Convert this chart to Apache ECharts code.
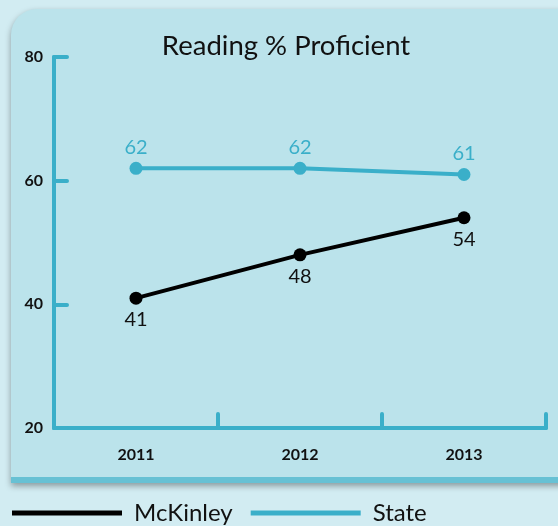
<!DOCTYPE html>
<html lang="en">
<head>
  <meta charset="UTF-8">
  <title>Reading % Proficient</title>
  <script src="https://cdn.jsdelivr.net/npm/echarts@6/dist/echarts.min.js"></script>
  <style>
    html, body { margin: 0; padding: 0; background: #d2ecf2; }
  </style>
</head>
<body>
  <div id="chart" style="width: 558px; height: 526px"></div>

  <script>
    const years = ['2011', '2012', '2013']
    const mckinley = [41, 48, 54]
    const state = [62, 62, 61]
    const yTicks = [20, 40, 60, 80]

    const teal = '#3aafc9'
    const font = 'Lato'

    const chart = echarts.init(document.getElementById('chart'))

    const option = {
      backgroundColor: '#d2ecf2',
      textStyle: { fontFamily: font },
      title: {
        text: 'Reading % Proficient',
        left: 286,
        textAlign: 'center',
        top: 32,
        padding: 0,
        textStyle: { fontSize: 27.5, fontWeight: 'normal', color: '#111', fontFamily: font }
      },
      graphic: [
        {
          type: 'rect',
          silent: true,
          z: -10,
          shape: { x: 11, y: 9, width: 600, height: 474, r: [26, 0, 0, 0] },
          style: { fill: '#bbe3eb', shadowBlur: 6, shadowOffsetY: 3, shadowColor: 'rgba(0,0,0,0.35)' }
        },
        {
          type: 'rect',
          silent: true,
          z: -9,
          shape: { x: 11, y: 477, width: 600, height: 6 },
          style: { fill: '#67c1d4' }
        }
      ],
      grid: {
        left: 54,
        right: 12,
        top: 57,
        bottom: 98,
        containLabel: false
      },
      legend: {
        left: 12,
        top: 501,
        padding: 0,
        icon: 'rect',
        itemWidth: 110,
        itemHeight: 5,
        itemGap: 18,
        textStyle: { fontSize: 24, color: '#111', fontFamily: font, padding: [0, 0, 0, 7] },
        data: ['McKinley', 'State']
      },
      xAxis: {
        type: 'category',
        data: years,
        boundaryGap: true,
        axisLine: { lineStyle: { color: teal, width: 4, cap: 'round' } },
        axisTick: { show: true, inside: true, length: 14, lineStyle: { color: teal, width: 4, cap: 'round' } },
        axisLabel: { fontSize: 16, fontWeight: 'bold', color: '#111', margin: 19, fontFamily: font },
        splitLine: { show: false }
      },
      yAxis: {
        type: 'value',
        min: yTicks[0],
        max: yTicks[yTicks.length - 1],
        interval: 20,
        axisLine: { show: true, lineStyle: { color: teal, width: 4, cap: 'round' } },
        axisTick: { show: true, inside: true, length: 13, lineStyle: { color: teal, width: 4, cap: 'round' } },
        axisLabel: { fontSize: 16, fontWeight: 'bold', color: '#111', margin: 11, fontFamily: font },
        splitLine: { show: false }
      },
      series: [
        {
          name: 'McKinley',
          type: 'line',
          data: mckinley,
          symbol: 'circle',
          symbolSize: 13,
          lineStyle: { color: '#000', width: 4 },
          itemStyle: { color: '#000' },
          label: { show: true, position: 'bottom', distance: 5, fontSize: 20, color: '#111', fontFamily: font }
        },
        {
          name: 'State',
          type: 'line',
          data: state,
          symbol: 'circle',
          symbolSize: 13,
          lineStyle: { color: teal, width: 4 },
          itemStyle: { color: teal },
          label: { show: true, position: 'top', distance: 4, fontSize: 20, color: teal, fontFamily: font }
        }
      ]
    }

    chart.setOption(option)
  </script>
</body>
</html>
